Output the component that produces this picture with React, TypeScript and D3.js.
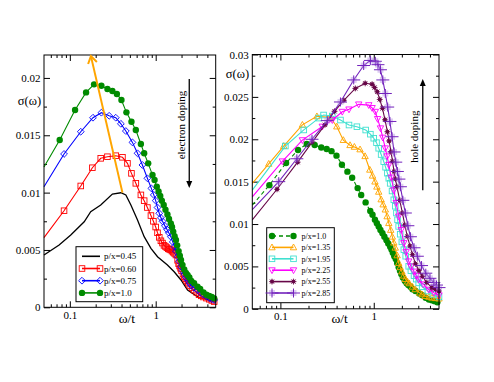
import React, { useEffect, useRef } from "react";
import * as d3 from "d3";

type Pt = [number, number];

// [omega/t, sigma(omega)] (electron doping)
const px045: Pt[] = [
  [0.05, 0.00456], [0.075, 0.00543], [0.1025, 0.0063], [0.147, 0.00746], [0.175, 0.00833],
  [0.229, 0.00892], [0.313, 0.00988], [0.393, 0.00999], [0.449, 0.00979], [0.514, 0.00892],
  [0.614, 0.00761], [0.734, 0.00616], [0.88, 0.00514], [1.05, 0.00441], [1.37, 0.00369],
  [1.64, 0.0031], [1.97, 0.00238], [2.35, 0.00151], [3.07, 0.00092], [4.8, 0.00049], [5, 0.00045],
];
const px060: Pt[] = [
  [0.05, 0.00607], [0.0856, 0.00842], [0.134, 0.01058], [0.183, 0.01217], [0.229, 0.01299],
  [0.274, 0.01313], [0.343, 0.01322], [0.41, 0.01308], [0.469, 0.01255], [0.522, 0.01168],
  [0.587, 0.01081], [0.672, 0.0098], [0.734, 0.0093], [0.8, 0.0087], [0.88, 0.008], [0.94, 0.0075],
  [1.0, 0.007], [1.05, 0.0065], [1.1, 0.0061], [1.15, 0.0058], [1.2, 0.0056], [1.25, 0.0054],
  [1.3, 0.0053], [1.35, 0.0052], [1.4, 0.0051], [1.45, 0.00505], [1.5, 0.005], [1.55, 0.0049],
  [1.6, 0.0048], [1.66, 0.0047], [1.72, 0.00456], [1.8, 0.0041], [1.85, 0.0038], [1.9, 0.0036],
  [1.95, 0.0034], [2.0, 0.0032], [2.08, 0.0029], [2.15, 0.00267], [2.23, 0.0025], [2.3, 0.0023],
  [2.4, 0.0021], [2.5, 0.0019], [2.65, 0.0017], [2.8, 0.0015], [3.0, 0.0013], [3.2, 0.0011],
  [3.4, 0.001], [3.6, 0.0009], [3.9, 0.0008], [4.2, 0.0007], [4.5, 0.0006], [4.8, 0.0005],
];
const px075: Pt[] = [
  [0.05, 0.01051], [0.0856, 0.01337], [0.134, 0.01531], [0.186, 0.01653], [0.233, 0.01697],
  [0.287, 0.0167], [0.343, 0.01653], [0.393, 0.016], [0.449, 0.01537], [0.536, 0.01438],
  [0.614, 0.01343], [0.7, 0.01241], [0.8, 0.01125], [0.89, 0.01037], [0.95, 0.0098], [1.0, 0.0093],
  [1.05, 0.0087], [1.1, 0.0082], [1.15, 0.0078], [1.2, 0.0075], [1.28, 0.0071], [1.35, 0.0068],
  [1.42, 0.0065], [1.5, 0.00616], [1.58, 0.0057], [1.65, 0.0053], [1.72, 0.0049], [1.8, 0.00441],
  [1.88, 0.004], [1.97, 0.00354], [2.05, 0.0032], [2.15, 0.0029], [2.25, 0.0026], [2.35, 0.00238],
  [2.47, 0.0021], [2.6, 0.0019], [2.8, 0.0017], [3.07, 0.00151], [3.3, 0.0013], [3.6, 0.0011],
  [3.9, 0.00095], [4.2, 0.0008], [4.5, 0.0007], [4.8, 0.00064],
];
// p/x = 1.0 appears in both panels
const px100: Pt[] = [
  [0.05, 0.01223], [0.0762, 0.01459], [0.115, 0.0172], [0.1545, 0.01874], [0.1915, 0.01944],
  [0.233, 0.01932], [0.274, 0.01903], [0.313, 0.01886], [0.353, 0.0186], [0.399, 0.01807],
  [0.456, 0.017], [0.522, 0.01618], [0.587, 0.01546], [0.672, 0.01424], [0.734, 0.01343],
  [0.818, 0.01255], [0.918, 0.01153], [0.97, 0.0111], [1.03, 0.01051], [1.08, 0.0101],
  [1.13, 0.0097], [1.18, 0.0093], [1.24, 0.00892], [1.3, 0.0085], [1.37, 0.0081], [1.43, 0.0077],
  [1.5, 0.00732], [1.55, 0.007], [1.6, 0.0066], [1.66, 0.0062], [1.72, 0.00587], [1.78, 0.0054],
  [1.85, 0.0049], [1.91, 0.0045], [1.97, 0.00412], [2.05, 0.0037], [2.15, 0.0033], [2.25, 0.003],
  [2.35, 0.00282], [2.47, 0.0026], [2.6, 0.0023], [2.8, 0.0021], [3.07, 0.0018], [3.3, 0.0016],
  [3.6, 0.0013], [3.9, 0.0011], [4.2, 0.001], [4.5, 0.0009], [4.8, 0.00078],
];

// right panel (hole doping)
const px135: Pt[] = [
  [0.05, 0.0148], [0.075, 0.0171], [0.1085, 0.0192], [0.172, 0.0217], [0.246, 0.0227],
  [0.341, 0.0226], [0.402, 0.0215], [0.472, 0.0199], [0.557, 0.0193], [0.62, 0.0191],
  [0.713, 0.0188], [0.807, 0.018], [0.907, 0.0164], [0.97, 0.0157], [1.03, 0.015], [1.08, 0.0144],
  [1.13, 0.0138], [1.2, 0.0129], [1.26, 0.0123], [1.33, 0.0117], [1.39, 0.0109], [1.45, 0.0101],
  [1.52, 0.0093], [1.58, 0.0085], [1.64, 0.0078], [1.7, 0.0072], [1.78, 0.0063], [1.85, 0.0054],
  [1.92, 0.0049], [2.0, 0.0044], [2.09, 0.0039], [2.18, 0.0035], [2.3, 0.0032], [2.4, 0.003],
  [2.6, 0.0026], [2.79, 0.0023], [3.1, 0.0019], [3.3, 0.0017], [3.57, 0.0015], [3.9, 0.0014],
  [4.2, 0.0013], [4.6, 0.00125], [5, 0.0012],
];
const px195: Pt[] = [
  [0.05, 0.014], [0.113, 0.0192], [0.178, 0.0211], [0.258, 0.0225], [0.29, 0.02286],
  [0.36, 0.02274], [0.44, 0.02227], [0.543, 0.02168], [0.66, 0.02148], [0.82, 0.02109],
  [0.92, 0.0206], [1.0, 0.02012], [1.07, 0.0196], [1.13, 0.01894], [1.2, 0.0182], [1.28, 0.01736],
  [1.34, 0.0167], [1.4, 0.016], [1.45, 0.0154], [1.5, 0.0148], [1.57, 0.0139], [1.64, 0.01286],
  [1.7, 0.0121], [1.75, 0.0113], [1.8, 0.0105], [1.85, 0.00972], [1.92, 0.0088], [2.0, 0.0079],
  [2.1, 0.00698], [2.2, 0.0062], [2.37, 0.00501], [2.5, 0.0045], [2.7, 0.0039], [2.85, 0.0035],
  [3.03, 0.00306], [3.3, 0.0026], [3.8, 0.0021], [4.3, 0.0017], [5, 0.0014],
];
const px225: Pt[] = [
  [0.05, 0.0132], [0.105, 0.0174], [0.172, 0.0199], [0.281, 0.0215], [0.36, 0.02227],
  [0.46, 0.02325], [0.543, 0.02353], [0.69, 0.02412], [0.885, 0.02403], [0.96, 0.0237],
  [1.04, 0.02325], [1.1, 0.0224], [1.18, 0.0213], [1.25, 0.0202], [1.33, 0.01894], [1.39, 0.018],
  [1.45, 0.01698], [1.54, 0.0155], [1.64, 0.014], [1.74, 0.0125], [1.85, 0.0109], [1.97, 0.0093],
  [2.1, 0.00776], [2.22, 0.0067], [2.37, 0.0056], [2.5, 0.005], [2.7, 0.0044], [2.85, 0.0039],
  [3.03, 0.00345], [3.4, 0.0029], [3.88, 0.00227], [4.4, 0.0019], [5, 0.0016],
];
const px255: Pt[] = [
  [0.05, 0.0105], [0.092, 0.0141], [0.153, 0.0173], [0.22, 0.0197], [0.3, 0.0217], [0.38, 0.0233],
  [0.478, 0.0246], [0.635, 0.026], [0.81, 0.0266], [0.96, 0.0265], [1.02, 0.0261], [1.09, 0.0256],
  [1.16, 0.0247], [1.24, 0.02365], [1.32, 0.0223], [1.4, 0.02089], [1.46, 0.0198], [1.53, 0.01854],
  [1.59, 0.0174], [1.65, 0.01619], [1.71, 0.0153], [1.77, 0.01442], [1.9, 0.0128], [2.03, 0.0113],
  [2.15, 0.0099], [2.29, 0.00854], [2.45, 0.0074], [2.6, 0.00639], [2.8, 0.0053], [3.05, 0.0045],
  [3.32, 0.00384], [3.7, 0.0031], [4.2, 0.00247], [4.6, 0.0023], [5, 0.0021],
];
const px285: Pt[] = [
  [0.05, 0.0117], [0.096, 0.015], [0.15, 0.0177], [0.218, 0.02], [0.318, 0.0222], [0.44, 0.0244],
  [0.61, 0.027], [0.78, 0.0287], [0.92, 0.0293], [1.04, 0.0292], [1.11, 0.0288], [1.18, 0.0282],
  [1.25, 0.027], [1.33, 0.0254], [1.41, 0.0238], [1.49, 0.0221], [1.57, 0.0203], [1.65, 0.0185],
  [1.72, 0.0173], [1.79, 0.0162], [1.86, 0.0153], [1.93, 0.0144], [2.05, 0.0128], [2.18, 0.0113],
  [2.32, 0.0098], [2.47, 0.0085], [2.7, 0.0072], [2.93, 0.0062], [3.25, 0.0051], [3.61, 0.0042],
  [4.0, 0.0036], [4.4, 0.0031], [4.7, 0.0028], [5, 0.0025],
];

const leftLabels = ["p/x=0.45", "p/x=0.60", "p/x=0.75", "p/x=1.0"];
const rightLabels = ["p/x=1.0", "p/x=1.35", "p/x=1.95", "p/x=2.25", "p/x=2.55", "p/x=2.85"];

const xMajor = [0.1, 1];
const xMinor = [0.06, 0.07, 0.08, 0.09, 0.2, 0.3, 0.4, 0.5, 0.6, 0.7, 0.8, 0.9, 2, 3, 4];
const leftYMajor = [0, 0.005, 0.01, 0.015, 0.02];
const leftYMinor = [0.0025, 0.0075, 0.0125, 0.0175];
const rightYMajor = [0, 0.005, 0.01, 0.015, 0.02, 0.025, 0.03];
const rightYMinor = [0.0025, 0.0075, 0.0125, 0.0175, 0.0225, 0.0275];

// orange guide through the peaks, and the two doping arrows (data coords)
const peakArrow: Pt[] = [[0.41, 0.01], [0.176, 0.0219]];
const electronArrow: Pt[] = [[2.46, 0.0199], [2.46, 0.0104]];
const holeArrow: Pt[] = [[3.35, 0.014], [3.35, 0.0271]];

const FONT = "'Liberation Serif', 'Times New Roman', Times, serif";

function drawSymbol(g, kind, color, cx, cy) {
  if (kind === "square") {
    g.append("rect").attr("x", cx - 2.8).attr("y", cy - 2.8).attr("width", 5.6).attr("height", 5.6)
      .attr("fill", "none").attr("stroke", color).attr("stroke-width", 0.9);
  } else if (kind === "diamond") {
    g.append("path").attr("d", `M${cx},${cy - 3.4}L${cx + 3.4},${cy}L${cx},${cy + 3.4}L${cx - 3.4},${cy}Z`)
      .attr("fill", "none").attr("stroke", color).attr("stroke-width", 0.9);
  } else if (kind === "circle") {
    g.append("circle").attr("cx", cx).attr("cy", cy).attr("r", 3.2).attr("fill", color);
  } else if (kind === "triUp") {
    g.append("path").attr("d", `M${cx},${cy - 3.4}L${cx + 3.2},${cy + 2.4}L${cx - 3.2},${cy + 2.4}Z`)
      .attr("fill", "none").attr("stroke", color).attr("stroke-width", 0.9);
  } else if (kind === "triDown") {
    g.append("path").attr("d", `M${cx},${cy + 3.4}L${cx + 3.2},${cy - 2.4}L${cx - 3.2},${cy - 2.4}Z`)
      .attr("fill", "none").attr("stroke", color).attr("stroke-width", 0.9);
  } else if (kind === "star") {
    g.append("circle").attr("cx", cx).attr("cy", cy).attr("r", 2).attr("fill", color);
    g.append("path").attr("d", `M${cx - 3},${cy}H${cx + 3}M${cx},${cy - 3}V${cy + 3}M${cx - 2.2},${cy - 2.2}L${cx + 2.2},${cy + 2.2}M${cx - 2.2},${cy + 2.2}L${cx + 2.2},${cy - 2.2}`)
      .attr("stroke", color).attr("stroke-width", 0.8);
  } else if (kind === "plus") {
    g.append("rect").attr("x", cx - 3).attr("y", cy - 3).attr("width", 6).attr("height", 6)
      .attr("fill", "#b48ee0").attr("opacity", 0.45);
    g.append("path").attr("d", `M${cx - 6.5},${cy}H${cx + 6.5}M${cx},${cy - 4.5}V${cy + 4.5}`)
      .attr("stroke", color).attr("stroke-width", 1);
  }
}

function drawPanel(svg, p) {
  const x = d3.scaleLog().domain([0.05, 5]).range([p.x0, p.x1]);
  const y = d3.scaleLinear().domain([0, p.yMax]).range([p.y1, p.y0]);
  const g = svg.append("g");

  const axis = (a, tr, values, size, labels) => {
    const ag = g.append("g").attr("transform", tr)
      .call(a.tickValues(values).tickSize(size).tickPadding(3.5)
        .tickFormat(labels ? labels : () => ""));
    ag.select(".domain").remove();
    ag.attr("font-family", FONT).attr("font-size", 11);
    ag.selectAll("line").attr("stroke", "#000");
    ag.selectAll("text").attr("fill", "#000");
  };
  const fx = (v) => (v >= 1 ? d3.format("d")(v) : String(v));
  const fy = (v) => (v === 0 ? "0" : String(+v.toFixed(3)));

  axis(d3.axisBottom(x), `translate(0,${p.y1})`, xMajor, -6, fx);
  axis(d3.axisBottom(x), `translate(0,${p.y1})`, xMinor, -3, null);
  axis(d3.axisTop(x), `translate(0,${p.y0})`, xMajor, -6, null);
  axis(d3.axisTop(x), `translate(0,${p.y0})`, xMinor, -3, null);
  axis(d3.axisLeft(y), `translate(${p.x0},0)`, p.yMajor, -6, fy);
  axis(d3.axisLeft(y), `translate(${p.x0},0)`, p.yMinor, -3, null);
  axis(d3.axisRight(y), `translate(${p.x1},0)`, p.yMajor, -6, null);
  axis(d3.axisRight(y), `translate(${p.x1},0)`, p.yMinor, -3, null);

  const line = d3.line<Pt>().x((d) => x(d[0])).y((d) => y(d[1]));
  p.series.forEach((s) => {
    g.append("path").attr("d", line(s.data)).attr("fill", "none").attr("stroke", s.color)
      .attr("stroke-width", s.lw || 1.1).attr("stroke-dasharray", s.dash || null);
    if (s.symbol) {
      const mg = g.append("g");
      s.data.filter((d) => d[0] > 0.06).forEach((d) => drawSymbol(mg, s.symbol, s.color, x(d[0]), y(d[1])));
    }
  });

  g.append("rect").attr("x", p.x0).attr("y", p.y0).attr("width", p.x1 - p.x0).attr("height", p.y1 - p.y0)
    .attr("fill", "none").attr("stroke", "#000").attr("stroke-width", 1);

  g.append("text").attr("x", p.yLabel[0]).attr("y", p.yLabel[1]).attr("text-anchor", "middle")
    .attr("font-family", FONT).attr("font-size", 12.5).text("σ(ω)");
  g.append("text").attr("x", (p.x0 + p.x1) / 2 + p.xLabelShift).attr("y", 323).attr("text-anchor", "middle")
    .attr("font-family", FONT).attr("font-size", 13.5).text("ω/t");

  // legend
  const L = p.legend;
  const lg = g.append("g");
  lg.append("rect").attr("x", L.x).attr("y", L.y).attr("width", L.w).attr("height", L.h)
    .attr("fill", "#fff").attr("stroke", "#000").attr("stroke-width", 1);
  p.series.forEach((s, i) => {
    const ry = L.row0 + i * L.dy;
    lg.append("line").attr("x1", L.l0).attr("x2", L.l1).attr("y1", ry).attr("y2", ry)
      .attr("stroke", s.color).attr("stroke-width", 1.6).attr("stroke-dasharray", s.dash || null);
    if (s.symbol) {
      drawSymbol(lg, s.symbol, s.color, L.l0, ry);
      drawSymbol(lg, s.symbol, s.color, L.l1, ry);
    }
    lg.append("text").attr("x", L.tx).attr("y", ry).attr("dy", "0.35em")
      .attr("font-family", FONT).attr("font-size", L.fs).text(p.labels[i]);
  });

  return { x, y, g };
}

function arrowHead(g, tip: Pt, from: Pt, len: number, half: number, color: string, filled: boolean, w = 1.2) {
  const dx = tip[0] - from[0];
  const dy = tip[1] - from[1];
  const n = Math.hypot(dx, dy);
  const ux = dx / n, uy = dy / n;
  const bx = tip[0] - ux * len, by = tip[1] - uy * len;
  const a = [bx - uy * half, by + ux * half];
  const b = [bx + uy * half, by - ux * half];
  if (filled) {
    g.append("path").attr("d", `M${tip[0]},${tip[1]}L${a[0]},${a[1]}L${b[0]},${b[1]}Z`).attr("fill", color);
  } else {
    g.append("path").attr("d", `M${a[0]},${a[1]}L${tip[0]},${tip[1]}L${b[0]},${b[1]}`)
      .attr("fill", "none").attr("stroke", color).attr("stroke-width", w);
  }
}

export default function App() {
  const ref = useRef<SVGSVGElement>(null);

  useEffect(() => {
    if (!ref.current) return;
    const svg = d3.select(ref.current);
    svg.selectAll("*").remove();
    svg.append("rect").attr("width", 494).attr("height", 382).attr("fill", "#fff");

    const left = drawPanel(svg, {
      x0: 44, x1: 215.7, y0: 55, y1: 307.3, yMax: 0.022,
      yMajor: leftYMajor, yMinor: leftYMinor,
      yLabel: [29.5, 105], xLabelShift: -3,
      labels: leftLabels,
      series: [
        { data: px045, color: "#000000", symbol: null, lw: 1.3 },
        { data: px060, color: "#ff0000", symbol: "square" },
        { data: px075, color: "#0000ff", symbol: "diamond" },
        { data: px100, color: "#008b00", symbol: "circle" },
      ],
      legend: { x: 76, y: 246.7, w: 66.7, h: 55, row0: 256.3, dy: 12.2, l0: 82, l1: 100, tx: 104, fs: 9 },
    });

    const right = drawPanel(svg, {
      x0: 252.3, x1: 439, y0: 54.5, y1: 308.8, yMax: 0.03,
      yMajor: rightYMajor, yMinor: rightYMinor,
      yLabel: [237.5, 78], xLabelShift: -6,
      labels: rightLabels,
      series: [
        { data: px100, color: "#008b00", symbol: "circle", dash: "4,3" },
        { data: px135, color: "#ffa500", symbol: "triUp" },
        { data: px195, color: "#40e0d0", symbol: "square" },
        { data: px225, color: "#ff00ff", symbol: "triDown" },
        { data: px255, color: "#670748", symbol: "star" },
        { data: px285, color: "#7221bc", symbol: "plus" },
      ],
      legend: { x: 266.7, y: 227.7, w: 67.6, h: 75, row0: 236, dy: 11.4, l0: 272, l1: 293.5, tx: 301.5, fs: 8 },
    });

    // orange guide through the peaks
    const pa = peakArrow.map((d) => [left.x(d[0]), left.y(d[1])] as Pt);
    left.g.append("line").attr("x1", pa[0][0]).attr("y1", pa[0][1]).attr("x2", pa[1][0]).attr("y2", pa[1][1])
      .attr("stroke", "#ffa500").attr("stroke-width", 2);
    arrowHead(left.g, pa[1], pa[0], 7, 4.5, "#ffa500", false, 2);

    // doping arrows + text
    const ea = electronArrow.map((d) => [left.x(d[0]), left.y(d[1])] as Pt);
    left.g.append("line").attr("x1", ea[0][0]).attr("y1", ea[0][1]).attr("x2", ea[1][0]).attr("y2", ea[1][1] - 4)
      .attr("stroke", "#000").attr("stroke-width", 1.3);
    arrowHead(left.g, ea[1], ea[0], 7, 3, "#000", true);
    left.g.append("text").attr("transform", `translate(181,125) rotate(-90)`).attr("text-anchor", "middle")
      .attr("dy", "0.35em").attr("font-family", FONT).attr("font-size", 11).text("electron doping");

    const ha = holeArrow.map((d) => [right.x(d[0]), right.y(d[1])] as Pt);
    right.g.append("line").attr("x1", ha[0][0]).attr("y1", ha[0][1]).attr("x2", ha[1][0]).attr("y2", ha[1][1] + 4)
      .attr("stroke", "#000").attr("stroke-width", 1.3);
    arrowHead(right.g, ha[1], ha[0], 7, 3, "#000", true);
    right.g.append("text").attr("transform", `translate(413.7,136.7) rotate(-90)`).attr("text-anchor", "middle")
      .attr("dy", "0.35em").attr("font-family", FONT).attr("font-size", 11).text("hole doping");
  }, []);

  return (
    <svg
      ref={ref}
      width={494}
      height={382}
      style={{ position: "absolute", left: 0, top: 0, display: "block" }}
    />
  );
}
